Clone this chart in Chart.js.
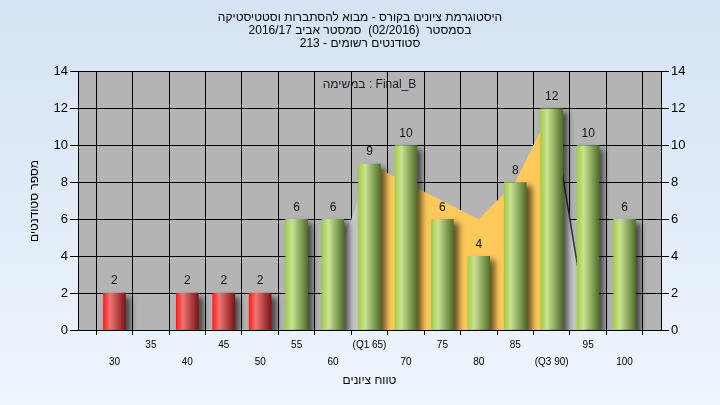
<!DOCTYPE html>
<html lang="he">
<head>
<meta charset="utf-8">
<script src="https://cdn.jsdelivr.net/npm/chart.js@4.4.1/dist/chart.umd.min.js"></script>
<style>
  html, body { margin: 0; padding: 0; }
  body { width: 720px; height: 405px; overflow: hidden; background: linear-gradient(#d5e3f4, #eef5fd); }
  canvas { display: block; }
</style>
</head>
<body>
<canvas id="grafico" width="720" height="405" dir="rtl"></canvas>
<script>
// dados
const titulo = [
  'היסטוגרמת ציונים בקורס - מבוא להסתברות וסטטיסטיקה',
  'בסמסטר  (02/2016)  סמסטר אביב 2016/17',
  'סטודנטים רשומים - 213'
];
const notas = [30, 35, 40, 45, 50, 55, 60, 65, 70, 75, 80, 85, 90, 95, 100];
const alunos = [2, null, 2, 2, 2, 6, 6, 9, 10, 6, 4, 8, 12, 10, 6];
const curvaNotas = [60, 65, 70, 75, 80, 85, 90, 95];
const curvaValores = [3, 9, 8, 7, 6, 8, 12, 0];
const faixaNotas = [65, 70, 75, 80, 85, 90];
const faixaValores = [9, 8, 7, 6, 8, 12];
const rotulosX = { 65: '(Q1 65)', 90: '(Q3 90)' };
const tarefa = 'Final_B : במשימה';
const tituloX = 'טווח ציונים';
const tituloY = 'מספר סטודנטים';

const fonte = '"Liberation Sans", Arial, sans-serif';
Chart.defaults.font.family = fonte;
Chart.defaults.color = '#000';

function gradienteBarra(c) {
  const xs = c.chart.scales.x;
  if (!xs || !c.raw) return '#999';
  const cx = xs.getPixelForValue(c.raw.x);
  if (!isFinite(cx)) return '#999';
  const g = c.chart.ctx.createLinearGradient(cx - 11, 0, cx + 11, 0);
  const cores = c.raw.x < 55 ? ['#ff1c1c', '#f27474', '#7a1515'] : ['#a3ce45', '#c9e394', '#516e2b'];
  g.addColorStop(0, cores[0]);
  g.addColorStop(0.3, cores[1]);
  g.addColorStop(1, cores[2]);
  return g;
}

const extras = {
  id: 'extras',
  beforeDraw(chart) {
    const { ctx, chartArea: a } = chart;
    ctx.save();
    ctx.fillStyle = '#b4b4b4';
    ctx.fillRect(a.left, a.top, a.right - a.left, a.bottom - a.top);
    ctx.restore();
  },
  beforeDatasetDraw(chart, args) {
    if (args.index !== 0) return;
    const ctx = chart.ctx;
    ctx.save();
    ctx.shadowColor = 'rgba(0,0,0,0.6)';
    ctx.shadowBlur = 6;
    ctx.shadowOffsetX = 5;
    ctx.shadowOffsetY = 4;
  },
  afterDatasetDraw(chart, args) {
    if (args.index !== 0) return;
    chart.ctx.restore();
  },
  afterDatasetsDraw(chart) {
    const { ctx, chartArea: a } = chart;
    const meta = chart.getDatasetMeta(0);
    ctx.save();
    ctx.font = '12px ' + fonte;
    ctx.fillStyle = '#111';
    ctx.textAlign = 'center';
    ctx.textBaseline = 'middle';
    meta.data.forEach((el, i) => {
      if (alunos[i] == null) return;
      ctx.fillText(String(alunos[i]), el.x, el.y - 12);
    });
    ctx.fillStyle = '#1a1a2a';
    ctx.fillText(tarefa, (a.left + a.right) / 2, a.top + 13);
    ctx.restore();
  }
};

const grafico = new Chart(document.getElementById('grafico'), {
  type: 'bar',
  data: {
    datasets: [
      {
        type: 'bar',
        data: notas.map((n, i) => ({ x: n, y: alunos[i] })),
        backgroundColor: gradienteBarra,
        borderWidth: 0,
        barThickness: 22,
        order: 0
      },
      {
        type: 'line',
        data: faixaNotas.map((n, i) => ({ x: n, y: faixaValores[i] })),
        backgroundColor: '#fec95b',
        borderColor: 'transparent',
        borderWidth: 0,
        pointRadius: 0,
        fill: 'origin',
        tension: 0,
        order: 1
      },
      {
        type: 'line',
        data: curvaNotas.map((n, i) => ({ x: n, y: curvaValores[i] })),
        backgroundColor: '#c6c6c6',
        borderColor: 'transparent',
        borderWidth: 1.5,
        segment: {
          borderColor: c => curvaNotas[c.p0DataIndex] === 90 ? '#333' : 'transparent'
        },
        pointRadius: 0,
        fill: 'origin',
        tension: 0,
        order: 2
      }
    ]
  },
  options: {
    responsive: false,
    animation: false,
    layout: { padding: 0 },
    plugins: {
      legend: { display: false },
      tooltip: { enabled: false },
      title: {
        display: true,
        text: titulo,
        color: '#000',
        font: { size: 12, weight: 'normal', lineHeight: 1.08 },
        padding: { top: 11, bottom: 22 }
      }
    },
    scales: {
      x: {
        type: 'linear',
        min: 25,
        max: 105,
        offset: false,
        grid: { color: '#000', tickLength: 5, tickColor: '#000' },
        border: { color: '#000' },
        ticks: {
          stepSize: 5,
          autoSkip: false,
          maxRotation: 0,
          padding: 2,
          font: { size: 10, lineHeight: 1.7 },
          callback: v => {
            if (v <= 25 || v >= 105) return '';
            const s = rotulosX[v] || String(v);
            return v % 10 === 5 ? [s] : ['', s];
          }
        },
        title: {
          display: true,
          text: tituloX,
          font: { size: 12 },
          padding: { top: 0, bottom: 17 }
        },
        afterFit: s => { s.height = 75; }
      },
      y: {
        position: 'left',
        min: 0,
        max: 14,
        grid: { color: '#000', tickLength: 8, tickColor: '#000' },
        border: { color: '#000' },
        ticks: { stepSize: 2, padding: 2, font: { size: 13 } },
        title: {
          display: true,
          text: tituloY,
          font: { size: 12 },
          padding: { top: 27, bottom: 0 }
        },
        afterFit: s => { s.width = 78; }
      },
      y2: {
        position: 'right',
        min: 0,
        max: 14,
        grid: { drawOnChartArea: false, tickLength: 8, tickColor: '#000' },
        border: { color: '#000' },
        ticks: { stepSize: 2, padding: 2, font: { size: 13 } },
        afterFit: s => { s.width = 59; }
      }
    }
  },
  plugins: [extras]
});
grafico.update();
</script>
</body>
</html>
